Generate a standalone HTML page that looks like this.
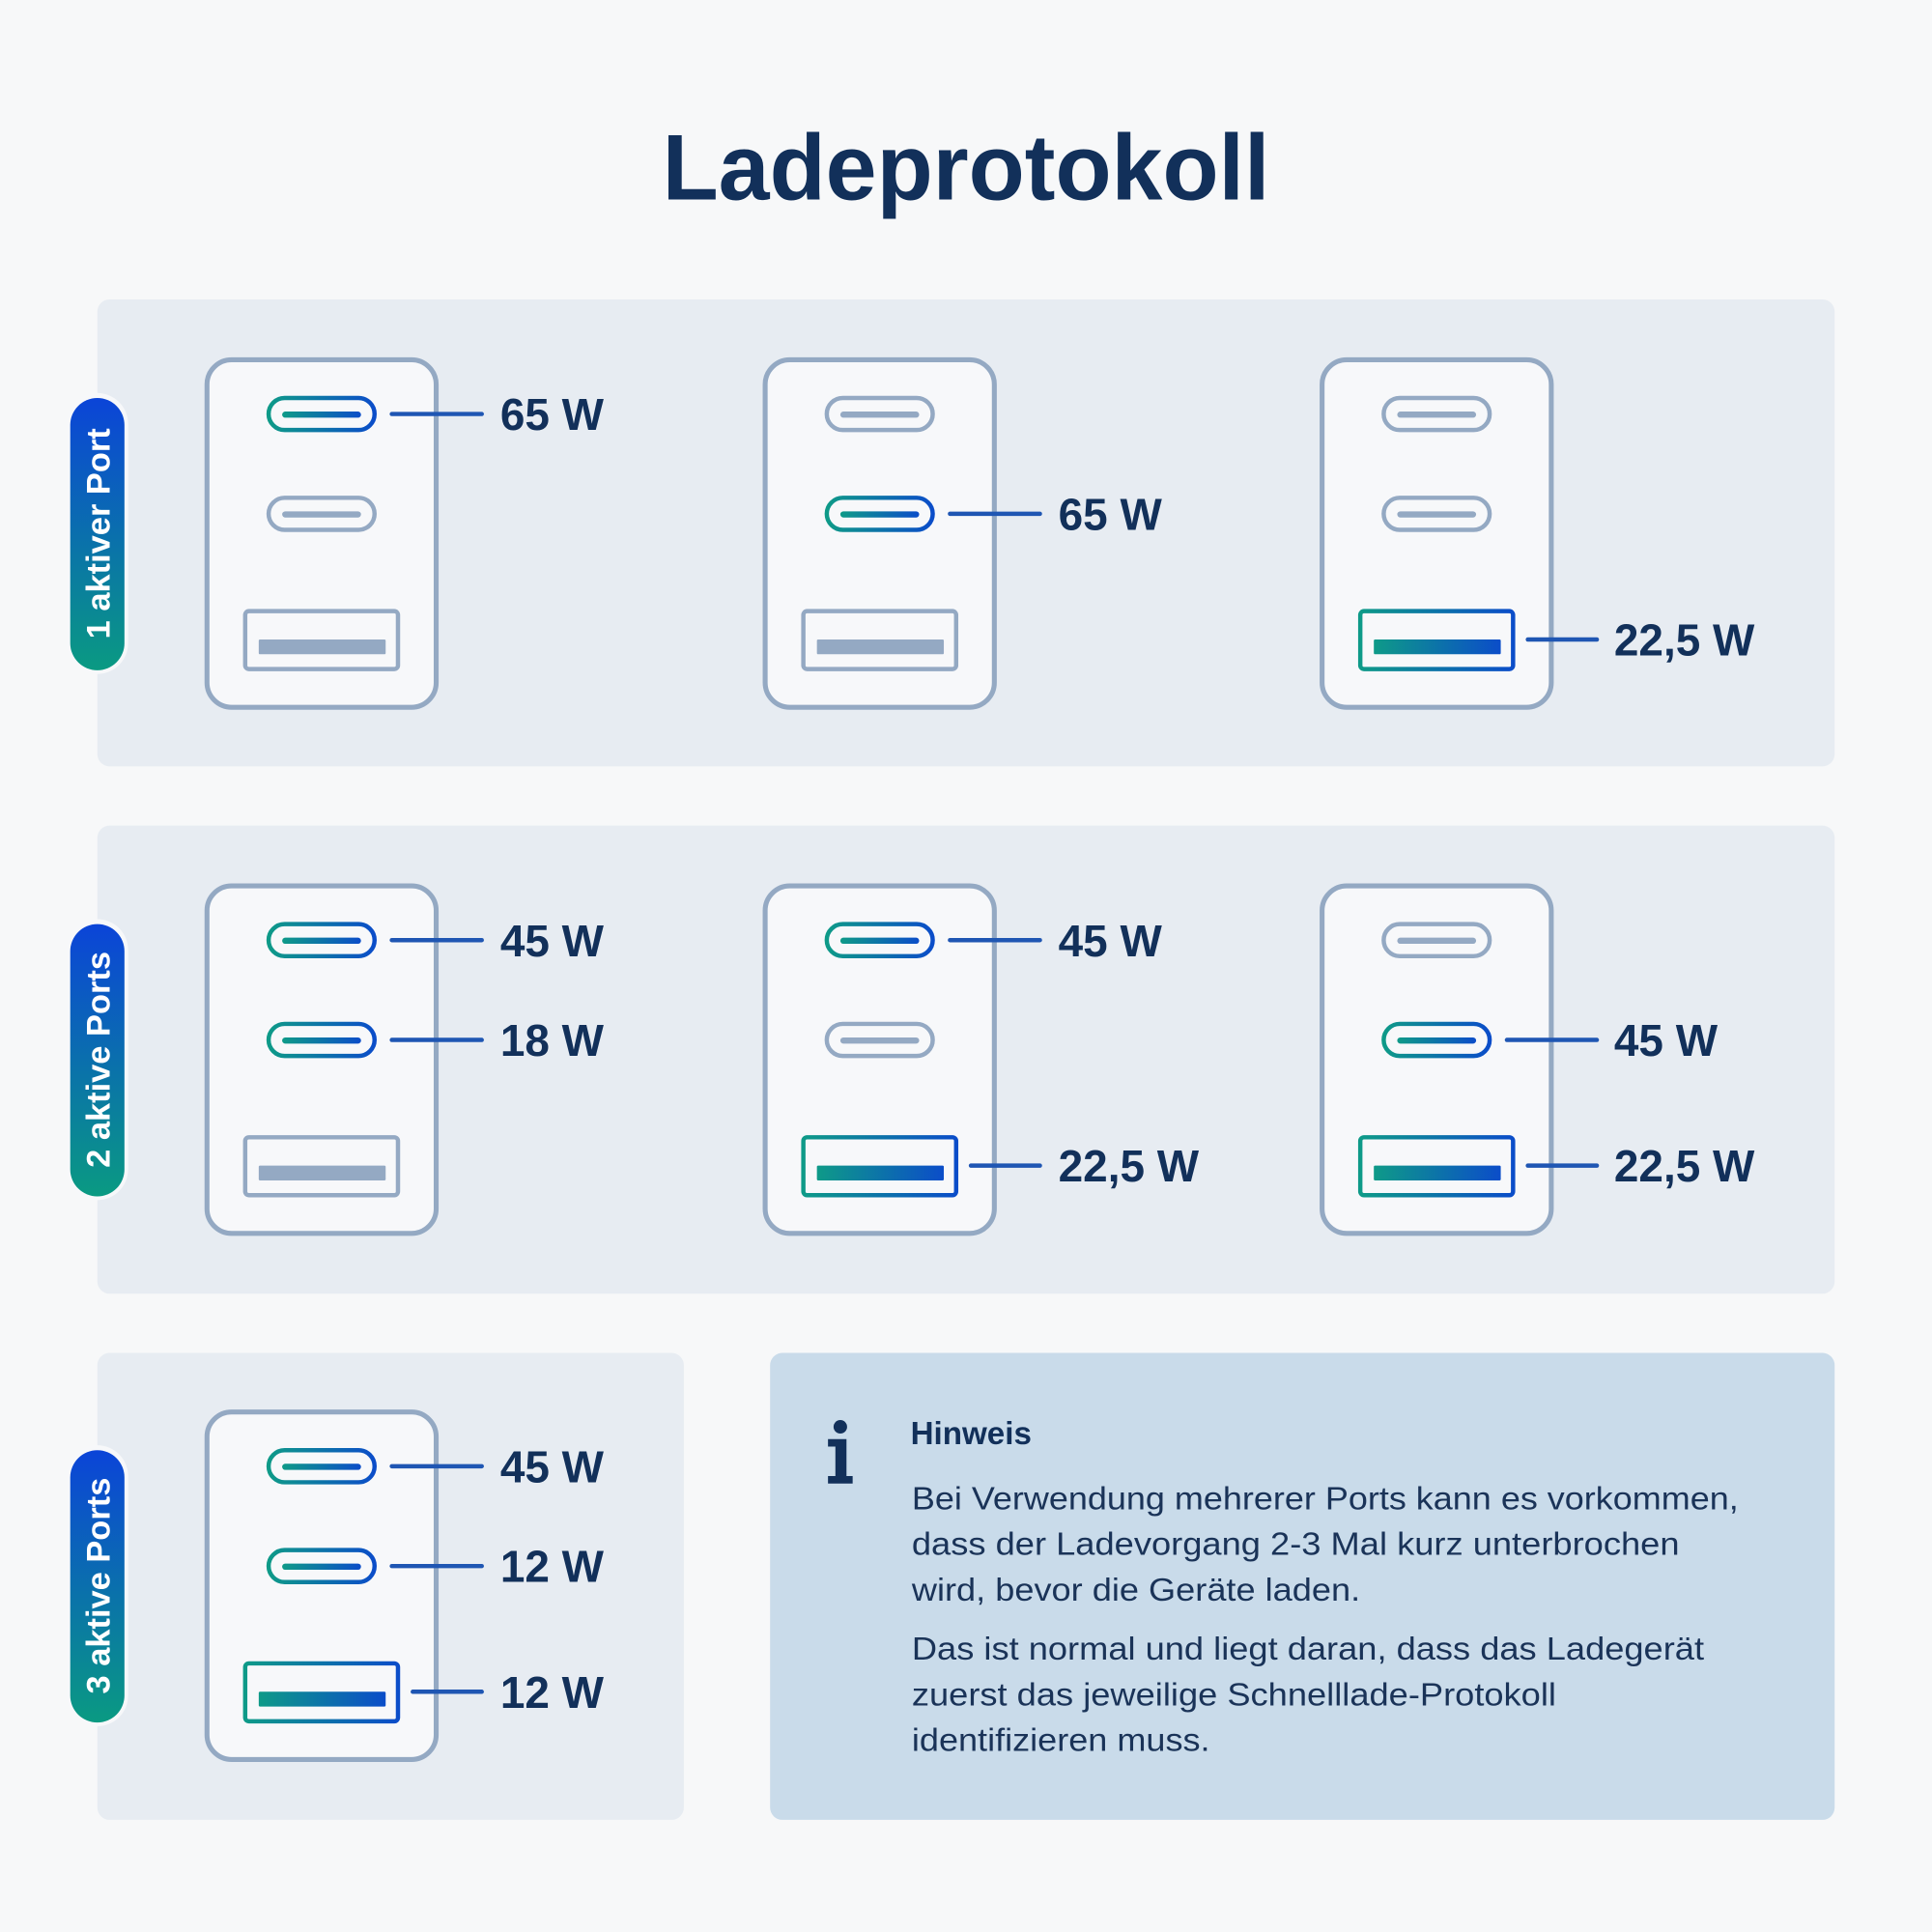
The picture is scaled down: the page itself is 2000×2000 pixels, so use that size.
<!DOCTYPE html>
<html><head><meta charset="utf-8"><style>html,body{margin:0;padding:0;background:#f7f8f9}svg{display:block}</style></head><body>
<svg width="2000" height="2000" viewBox="0 0 1568 1568" xmlns="http://www.w3.org/2000/svg" font-family="Liberation Sans, Arial, sans-serif">
<defs>
<linearGradient id="g" x1="0" y1="0" x2="1" y2="0"><stop offset="0" stop-color="#0e9a88"/><stop offset="1" stop-color="#0b4dc9"/></linearGradient>
<linearGradient id="gv" x1="0" y1="1" x2="0" y2="0"><stop offset="0" stop-color="#0a9a82"/><stop offset="1" stop-color="#0b44d8"/></linearGradient>
<g id="dev"><rect x="168" y="292" width="186" height="282" rx="20" fill="#f7f8fa" stroke="#94a9c3" stroke-width="4"/></g>
<g id="pi"><rect x="218" y="323" width="86" height="26" rx="13" fill="none" stroke="#94a9c3" stroke-width="3.5"/><rect x="229" y="334" width="64" height="5" rx="2.5" fill="#94a9c3"/></g>
<g id="pa"><rect x="218" y="323" width="86" height="26" rx="13" fill="none" stroke="url(#g)" stroke-width="3.5"/><rect x="229" y="334" width="64" height="5" rx="2.5" fill="url(#g)"/></g>
<g id="ui"><rect x="199" y="496" width="124" height="47" rx="3" fill="none" stroke="#94a9c3" stroke-width="3.5"/><rect x="210" y="519" width="103" height="12" rx="1" fill="#94a9c3"/></g>
<g id="ua"><rect x="199" y="496" width="124" height="47" rx="3" fill="none" stroke="url(#g)" stroke-width="3.5"/><rect x="210" y="519" width="103" height="12" rx="1" fill="url(#g)"/></g>
</defs>
<rect width="1568" height="1568" fill="#f7f8f9"/>
<text x="784" y="162" text-anchor="middle" font-size="76" font-weight="bold" fill="#12305a" textLength="493" lengthAdjust="spacingAndGlyphs">Ladeprotokoll</text>
<rect x="79" y="243" width="1410" height="379" rx="10" fill="#e7ecf2"/>
<rect x="79" y="670" width="1410" height="380" rx="10" fill="#e7ecf2"/>
<rect x="79" y="1098" width="476" height="379" rx="10" fill="#e7ecf2"/>
<rect x="625" y="1098" width="864" height="379" rx="10" fill="#c9dbea"/>

<!-- badges -->
<g font-size="27" font-weight="bold" fill="#fff">
<rect x="54" y="319" width="50" height="228" rx="25" fill="#f7f8fa"/><rect x="57" y="323" width="44" height="221" rx="22" fill="url(#gv)"/>
<text transform="translate(89,433) rotate(-90)" text-anchor="middle">1 aktiver Port</text>
<rect x="54" y="746" width="50" height="228" rx="25" fill="#f7f8fa"/><rect x="57" y="750" width="44" height="221" rx="22" fill="url(#gv)"/>
<text transform="translate(89,860) rotate(-90)" text-anchor="middle">2 aktive Ports</text>
<rect x="54" y="1173" width="50" height="228" rx="25" fill="#f7f8fa"/><rect x="57" y="1177" width="44" height="221" rx="22" fill="url(#gv)"/>
<text transform="translate(89,1287) rotate(-90)" text-anchor="middle">3 aktive Ports</text>
</g>

<!-- row1 -->
<g><use href="#dev"/><use href="#pa"/><use href="#pi" y="81"/><use href="#ui"/></g>
<g transform="translate(453,0)"><use href="#dev"/><use href="#pi"/><use href="#pa" y="81"/><use href="#ui"/></g>
<g transform="translate(905,0)"><use href="#dev"/><use href="#pi"/><use href="#pi" y="81"/><use href="#ua"/></g>
<!-- row2 -->
<g transform="translate(0,427)"><use href="#dev"/><use href="#pa"/><use href="#pa" y="81"/><use href="#ui"/></g>
<g transform="translate(453,427)"><use href="#dev"/><use href="#pa"/><use href="#pi" y="81"/><use href="#ua"/></g>
<g transform="translate(905,427)"><use href="#dev"/><use href="#pi"/><use href="#pa" y="81"/><use href="#ua"/></g>
<!-- row3 -->
<g transform="translate(0,854)"><use href="#dev"/><use href="#pa"/><use href="#pa" y="81"/><use href="#ua"/></g>

<g stroke="#1f56b3" stroke-width="3.5" stroke-linecap="round">
<line x1="318" y1="336" x2="391" y2="336"/>
<line x1="771" y1="417" x2="844" y2="417"/>
<line x1="1240" y1="519" x2="1296" y2="519"/>
<line x1="318" y1="763" x2="391" y2="763"/>
<line x1="318" y1="844" x2="391" y2="844"/>
<line x1="771" y1="763" x2="844" y2="763"/>
<line x1="788" y1="946" x2="844" y2="946"/>
<line x1="1223" y1="844" x2="1296" y2="844"/>
<line x1="1240" y1="946" x2="1296" y2="946"/>
<line x1="318" y1="1190" x2="391" y2="1190"/>
<line x1="318" y1="1271" x2="391" y2="1271"/>
<line x1="335" y1="1373" x2="391" y2="1373"/>
</g>

<g font-size="36" font-weight="bold" fill="#12305a">
<text x="406" y="349">65 W</text>
<text x="859" y="430">65 W</text>
<text x="1310" y="532">22,5 W</text>
<text x="406" y="776">45 W</text>
<text x="406" y="857">18 W</text>
<text x="859" y="776">45 W</text>
<text x="859" y="959">22,5 W</text>
<text x="1310" y="857">45 W</text>
<text x="1310" y="959">22,5 W</text>
<text x="406" y="1203">45 W</text>
<text x="406" y="1284">12 W</text>
<text x="406" y="1386">12 W</text>
</g>

<!-- info -->
<g fill="#12305a">
<circle cx="682" cy="1158" r="5.5"/>
<path d="M672 1168 h15 v30 h5 v6 h-20 v-6 h6 v-24 h-6 z"/>
</g>
<text x="739" y="1172" font-size="26" font-weight="bold" fill="#12305a">Hinweis</text>
<g font-size="26" fill="#1a3358" lengthAdjust="spacingAndGlyphs">
<text x="740" y="1225" textLength="671" lengthAdjust="spacingAndGlyphs">Bei Verwendung mehrerer Ports kann es vorkommen,</text>
<text x="740" y="1262" textLength="623" lengthAdjust="spacingAndGlyphs">dass der Ladevorgang 2-3 Mal kurz unterbrochen</text>
<text x="740" y="1299" textLength="364" lengthAdjust="spacingAndGlyphs">wird, bevor die Geräte laden.</text>
<text x="740" y="1347" textLength="643" lengthAdjust="spacingAndGlyphs">Das ist normal und liegt daran, dass das Ladegerät</text>
<text x="740" y="1384" textLength="523" lengthAdjust="spacingAndGlyphs">zuerst das jeweilige Schnelllade-Protokoll</text>
<text x="740" y="1421" textLength="242" lengthAdjust="spacingAndGlyphs">identifizieren muss.</text>
</g>
</svg>
</body></html>
